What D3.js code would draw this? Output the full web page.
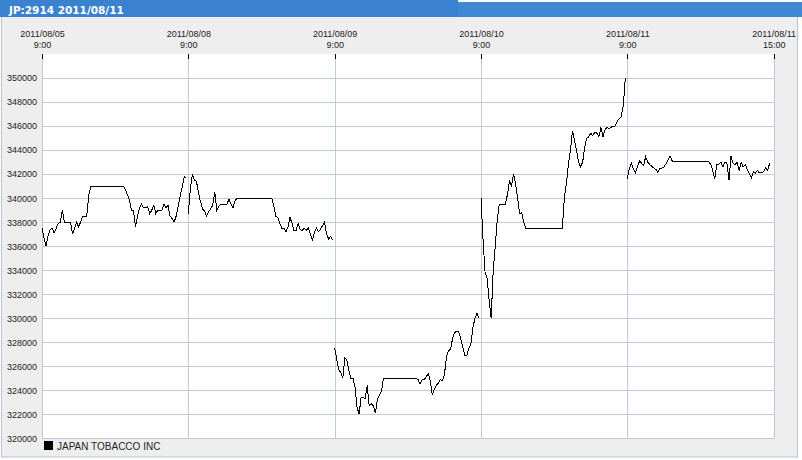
<!DOCTYPE html>
<html>
<head>
<meta charset="utf-8">
<script src="https://cdn.jsdelivr.net/npm/d3@7/dist/d3.min.js"></script>
<style>
  html, body { margin: 0; padding: 0; background: #ffffff; }
  svg { display: block; }
</style>
</head>
<body>
<svg id="chart" width="802" height="460"></svg>
<script>
// ---------- DATA ----------
const title = "JP:2914 2011/08/11";
const seriesName = "JAPAN TOBACCO INC";
const tickDates = ["2011/08/05", "2011/08/08", "2011/08/09", "2011/08/10", "2011/08/11", "2011/08/11"];
const tickTimes = ["9:00", "9:00", "9:00", "9:00", "9:00", "15:00"];
const priceTicks = [320000, 322000, 324000, 326000, 328000, 330000, 332000, 334000, 336000, 338000, 340000, 342000, 344000, 346000, 348000, 350000];
const stepMinutes = 5;         // one value every 5 minutes from 9:00
const sessionMinutes = 360;    // 9:00 - 15:00

const prices0805 = [
  337500, 336700, 336000, 336900, 337400, 337500, 337100, 337500, 337900, 338000, 339000, 338000, 338000,
  338000, 338000, 337000, 337500, 338000, 337600, 338000, 338500, 338500, 338500, 340200, 341000,
  341000, 341000, 341000, 341000, 341000, 341000, 341000, 341000, 341000, 341000, 341000, 341000, 341000, 341000, 341000, 341000,
  340700,
  340300, 339800, 339000, 339000, 337600, 338500, 339200, 339500, 339200, 339200, 339300, 338700, 339000,
  339400, 338700, 339000, 339000, 339000, 339500, 339200, 339400, 338500, 338300, 338000, 338500, 339300,
  340200, 340900, 341800, 341700
];
const prices0808 = [
  338700, 340800, 342000, 341500, 341400, 340400, 339700, 339100, 338900, 338500, 338900, 339100, 339400,
  340500, 339000, 339300, 339500, 339500, 339500, 339500, 339900, 339500, 339200, 339800, 340000,
  340000, 340000, 340000, 340000, 340000, 340000, 340000, 340000, 340000, 340000, 340000, 340000, 340000, 340000, 340000, 340000,
  340000,
  339400, 338500, 338400, 337900, 337500, 337500, 337200, 337600, 338400, 337900, 337300, 337300, 337900,
  337400, 337300, 337500, 337300, 337500, 337000, 336500, 337100, 337500, 337200, 337400, 337700, 338000,
  337000, 336600, 336800, 336500
];
const prices0809 = [
  327500, 326600, 325700, 325500, 325000, 326700, 326500, 325600, 325000, 325000, 324300, 322600, 322000,
  323400, 323400, 323300, 324400, 322700, 322900, 322700, 322100, 323200, 323600, 323900, 325000,
  325000, 325000, 325000, 325000, 325000, 325000, 325000, 325000, 325000, 325000, 325000, 325000, 325000, 325000, 325000, 325000,
  324900,
  324500, 324900, 324900, 325100, 325400, 324800, 323600, 324100, 324400, 324600, 324900, 324800, 325300,
  326800, 327300, 327400, 328300, 328800, 328900, 328900, 328300, 327600, 326900, 326900, 327500, 327800,
  329200, 330000, 330400, 330000
];
const prices0810 = [
  340000, 336500, 333800, 333300, 331500, 330000, 334000, 336000, 338200, 339500, 339500, 339500, 339500,
  340300, 341400, 341000, 342000, 341200, 340000, 338700, 338800, 338000, 337500, 337500, 337500,
  337500, 337500, 337500, 337500, 337500, 337500, 337500, 337500, 337500, 337500, 337500, 337500, 337500, 337500, 337500, 337500,
  340000,
  341200, 342800, 344000, 345600, 344800, 344000, 343000, 342600, 343000, 344200, 345000, 345100, 345400,
  345200, 345500, 345400, 345100, 345900, 345100, 345700, 345900, 345800, 345900, 346000, 346000, 346400,
  346600, 346800, 347700, 350000
];
const prices0811 = [
  341600, 342500, 342900, 342400, 342100, 342600, 343100, 342900, 342700, 343450, 343000, 342800, 342650,
  342500, 342400, 342150, 342500, 342500, 342600, 342850, 343200, 343500, 343100, 343050, 343050,
  343050, 343050, 343050, 343050, 343050, 343050, 343050, 343050, 343050, 343050, 343050, 343050, 343050, 343050, 343050, 343050,
  342800,
  342300, 341600, 342800, 342800, 343000, 342600, 343000, 342900, 341500, 343500, 342900, 342800, 343000,
  342300, 343000, 342600, 342800, 342400, 342000, 341700, 342200, 342100, 342300, 342100, 342100, 342200,
  342500, 342300, 342900
];
const sessions = [prices0805, prices0808, prices0809, prices0810, prices0811];

// ---------- LAYOUT ----------
const W = 802, H = 460;
const plot = { left: 42, right: 773.7, top: 54, bottom: 438.3 };
const svg = d3.select("#chart");

// outer panel
svg.append("rect").attr("x", 1.5).attr("y", 16.5).attr("width", 796).attr("height", 440.5)
  .attr("fill", "#eeeeee").attr("stroke", "#b4c4d4");

// title bar
svg.append("rect").attr("x", 0).attr("y", 2).attr("width", W).attr("height", 15).attr("fill", "#3f88d4");
svg.append("rect").attr("x", 0).attr("y", 0).attr("width", 458).attr("height", 17).attr("fill", "#3a82cf");
svg.append("text").attr("x", 9).attr("y", 13.5).text(title)
  .attr("font-family", "'DejaVu Sans', Verdana, sans-serif").attr("font-weight", "bold")
  .attr("font-size", "10.5px").attr("fill", "#ffffff");

// plot background
svg.append("rect").attr("x", plot.left).attr("y", plot.top)
  .attr("width", plot.right - plot.left).attr("height", plot.bottom - plot.top).attr("fill", "#ffffff");

// scales
const x = d3.scaleLinear().domain([0, sessions.length]).range([plot.left, plot.right]);
const y = d3.scaleLinear().domain([320000, 352000]).range([plot.bottom, plot.top]);

const gridColor = "#bccbdb";
// horizontal grid
const yAxis = d3.axisLeft(y).tickValues(priceTicks).tickSize(-(plot.right - plot.left)).tickPadding(5)
  .tickFormat(d3.format("d"));
const gy = svg.append("g").attr("transform", `translate(${plot.left},0)`).call(yAxis);
gy.select(".domain").remove();
gy.selectAll(".tick line").attr("stroke", gridColor).attr("shape-rendering", "crispEdges");
gy.selectAll(".tick text").attr("font-family", "'Liberation Sans', Arial, sans-serif")
  .attr("font-size", "9px").attr("fill", "#222222");

// vertical grid
const dayTicks = d3.range(0, sessions.length + 1);
svg.append("g").selectAll("line").data(dayTicks).join("line")
  .attr("x1", d => Math.round(x(d)) + 0.5).attr("x2", d => Math.round(x(d)) + 0.5)
  .attr("y1", plot.top).attr("y2", plot.bottom)
  .attr("stroke", gridColor);

// top axis with two-line labels
const xAxis = d3.axisTop(x).tickValues(dayTicks).tickSize(0).tickFormat("");
const gx = svg.append("g").attr("transform", `translate(0,${plot.top})`).call(xAxis);
gx.select(".domain").remove();
gx.selectAll(".tick").each(function(d) {
  const g = d3.select(this);
  g.append("line").attr("y1", 0).attr("y2", 5).attr("stroke", "#000").attr("shape-rendering", "crispEdges");
  const t = g.append("text").attr("text-anchor", "middle").attr("fill", "#222222")
    .attr("font-family", "'Liberation Sans', Arial, sans-serif").attr("font-size", "9px");
  t.append("tspan").attr("x", 0).attr("y", -17).text(tickDates[d]);
  t.append("tspan").attr("x", 0).attr("y", -6).text(tickTimes[d]);
});

// price line, one segment per trading day
const line = d3.line()
  .x(d => x(d.day + d.i * stepMinutes / sessionMinutes))
  .y(d => y(d.v));
sessions.forEach((vals, day) => {
  svg.append("path")
    .datum(vals.map((v, i) => ({ day, i, v })))
    .attr("d", line).attr("fill", "none").attr("stroke", "#000").attr("stroke-width", 1)
    .attr("shape-rendering", "crispEdges");
});

// legend
svg.append("rect").attr("x", 44).attr("y", 441).attr("width", 9).attr("height", 9).attr("fill", "#000");
svg.append("text").attr("x", 57).attr("y", 449.5).text(seriesName)
  .attr("font-family", "'Liberation Sans', Arial, sans-serif").attr("font-size", "10px").attr("fill", "#222");
</script>
</body>
</html>
